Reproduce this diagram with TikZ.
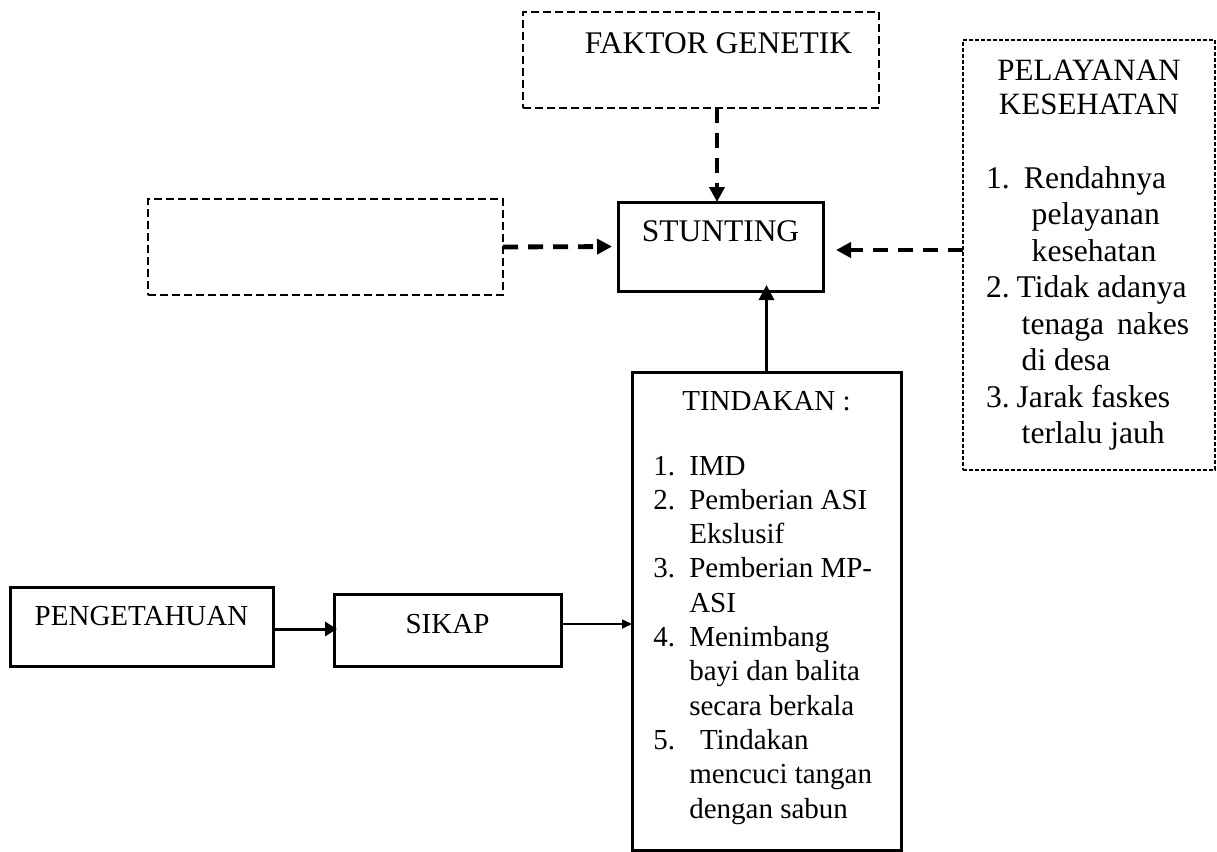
\documentclass[tikz,border=0pt]{standalone}
\usepackage{fontspec}
\setmainfont{Liberation Serif}
\usetikzlibrary{arrows.meta}
\newcommand\tline[3]{\hbox{\rlap{#1}\kern#2pt #3}}
\newcommand\bigf{\fontsize{31.5}{36}\selectfont}
\newcommand\smallf{\fontsize{29}{34.3}\selectfont}
\newcommand\peltf{\fontsize{31}{33.6}\selectfont}
\newcommand\pellf{\fontsize{31.6}{36.5}\selectfont}
\begin{document}
\begin{tikzpicture}[x=1pt,y=-1pt,
  box/.style={draw, line width=3pt, inner sep=0pt, outer sep=0pt, anchor=north west},
  dbox/.style={draw, line width=2.4pt, dash pattern=on 8pt off 4pt, inner sep=0pt, outer sep=0pt, anchor=north west},
  fbox/.style={draw, line width=1.4pt, dash pattern=on 4pt off 2pt, inner sep=0pt, outer sep=0pt, anchor=north west},
  thickdash/.style={line width=4.8pt, dash pattern=on 15pt off 10pt, -{Triangle[length=15pt,width=15pt]}},
  solidarrow/.style={line width=3pt, -{Triangle[length=15pt,width=15pt]}},
  medarrow/.style={line width=3pt, -{Triangle[length=12pt,width=14pt]}},
  thinarrow/.style={line width=1.6pt, -{Triangle[length=10pt,width=9pt]}},
  txt/.style={inner sep=0pt, outer sep=0pt}]
\fill[white] (0,0) rectangle (1217,851);
\useasboundingbox (0,0) rectangle (1217,851);

% boxes
\node[dbox, minimum width=356pt, minimum height=96pt, font=\bigf, text height=22pt, text depth=34pt] (faktor) at (523,12) {\hspace*{35pt}FAKTOR GENETIK};
\node[box, minimum width=205pt, minimum height=89pt, font=\bigf, text height=22pt, text depth=31.6pt] (stunt) at (618,202) {STUNTING};
\node[dbox, minimum width=355pt, minimum height=96pt] (empty) at (148,199) {};
\node[fbox, minimum width=252pt, minimum height=430pt] (pel) at (963,40) {};
\node[box, minimum width=269pt, minimum height=478pt] (tind) at (632,372) {};
\node[box, minimum width=263pt, minimum height=79pt, font=\smallf, text height=20pt, text depth=23pt] (peng) at (10,587) {PENGETAHUAN};
\node[box, minimum width=227pt, minimum height=72pt, font=\smallf, text height=20pt, text depth=13.4pt] (sikap) at (334,594) {SIKAP};

% texts
\node[txt, anchor=base, font=\smallf] (tindtitle) at (766.5,410) {TINDAKAN :};
\node[txt, anchor=base west, font=\smallf] (tindlist) at (653.3,475) {\vtop{%
\tline{1.}{36}{IMD}
\tline{2.}{36}{Pemberian ASI}
\tline{}{36}{Ekslusif}
\tline{3.}{36}{Pemberian MP-}
\tline{}{36}{ASI}
\tline{4.}{36}{Menimbang}
\tline{}{36}{bayi dan balita}
\tline{}{36}{secara berkala}
\tline{5.}{46.7}{Tindakan}
\tline{}{36}{mencuci tangan}
\tline{}{36}{dengan sabun}}};
\node[txt, anchor=base, font=\peltf] (peltitle) at (1089,80.7) {\vtop{\hbox to 0pt{\hss PELAYANAN\hss}\hbox to 0pt{\hss KESEHATAN\hss}}};
\node[txt, anchor=base west, font=\pellf] (pellist) at (986,188) {\vtop{%
\tline{1.}{38}{Rendahnya}
\tline{}{45.7}{pelayanan}
\tline{}{45.7}{kesehatan}
\tline{2.}{30.7}{Tidak adanya}
\tline{}{35.7}{tenaga\kern13pt nakes}
\tline{}{35.7}{di desa}
\tline{3.}{30.7}{Jarak faskes}
\tline{}{35.7}{terlalu jauh}}};

% connectors
\coordinate (gx) at (717,0);
\coordinate (ry) at (0,250);
\coordinate (py) at (0,629);
\coordinate (sy) at (0,624);
\draw[thickdash] (faktor.south -| gx) -- (stunt.north -| gx);
\draw[thickdash, shorten >=6pt] (empty.east) -- (stunt.west);
\draw[thickdash, shorten >=13pt] (pel.west |- ry) -- (stunt.east |- ry);
\draw[solidarrow, shorten >=-6pt] (tind.north) -- (stunt.south -| tind.north);
\draw[medarrow, shorten >=-3pt] (peng.east |- py) -- (sikap.west |- py);
\draw[thinarrow] (sikap.east |- sy) -- (tind.west |- sy);
\end{tikzpicture}
\end{document}
